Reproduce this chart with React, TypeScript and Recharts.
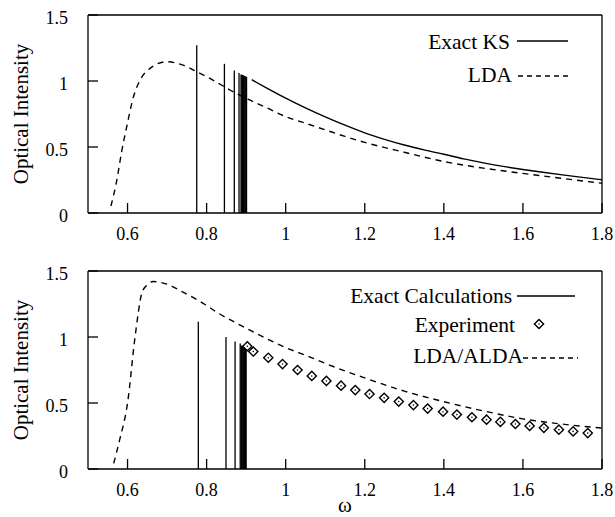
import React from 'react';
import {
  ComposedChart,
  Line,
  Scatter,
  XAxis,
  YAxis,
  ReferenceLine,
} from 'recharts';

// ω values shared by both panels
const X_TICKS = [0.6, 0.8, 1, 1.2, 1.4, 1.6, 1.8];
const Y_TICKS = [0, 0.5, 1, 1.5];

// top panel: exact KS (discrete peaks + continuum) and LDA
const topPeakX = [0.775, 0.845, 0.87, 0.882, 0.887, 0.889, 0.891, 0.893, 0.895, 0.897, 0.899, 0.901];
const topPeakY = [1.27, 1.13, 1.08, 1.06, 1.05, 1.048, 1.045, 1.042, 1.04, 1.037, 1.034, 1.03];

const topKsX = [0.914, 0.95, 1.0, 1.05, 1.1, 1.15, 1.2, 1.25, 1.3, 1.35, 1.4, 1.45, 1.5, 1.55, 1.6, 1.65, 1.7, 1.75, 1.8];
const topKsY = [1.01, 0.95, 0.87, 0.796, 0.728, 0.665, 0.607, 0.558, 0.515, 0.478, 0.445, 0.41, 0.38, 0.353, 0.33, 0.309, 0.289, 0.27, 0.252];

const topLdaX = [0.558, 0.573, 0.585, 0.598, 0.615, 0.632, 0.657, 0.699, 0.74, 0.775, 0.82, 0.86, 0.906, 0.95, 1.0, 1.05, 1.1, 1.15, 1.2, 1.3, 1.4, 1.5, 1.6, 1.7, 1.8];
const topLdaY = [0.053, 0.25, 0.464, 0.654, 0.881, 1.008, 1.096, 1.146, 1.12, 1.07, 1.0, 0.93, 0.86, 0.8, 0.73, 0.68, 0.63, 0.58, 0.535, 0.46, 0.39, 0.34, 0.3, 0.262, 0.225];

// bottom panel: exact calculations, experiment, LDA/ALDA
const botPeakX = [0.779, 0.849, 0.872, 0.885, 0.888, 0.89, 0.892, 0.894, 0.896, 0.898, 0.9];
const botPeakY = [1.116, 1.0, 0.965, 0.95, 0.935, 0.933, 0.931, 0.929, 0.927, 0.925, 0.923];

const expX = [0.903, 0.918, 0.956, 0.992, 1.03, 1.066, 1.103, 1.14, 1.176, 1.212, 1.249, 1.286, 1.323, 1.359, 1.398, 1.433, 1.471, 1.508, 1.543, 1.581, 1.617, 1.653, 1.691, 1.727, 1.764];
const expY = [0.93, 0.89, 0.843, 0.795, 0.75, 0.705, 0.667, 0.631, 0.598, 0.568, 0.539, 0.511, 0.484, 0.458, 0.434, 0.412, 0.392, 0.374, 0.357, 0.341, 0.326, 0.312, 0.298, 0.285, 0.272];

const botLdaX = [0.565, 0.58, 0.6, 0.619, 0.636, 0.648, 0.665, 0.7, 0.74, 0.7835, 0.83, 0.885, 0.95, 1.0, 1.06, 1.1, 1.2, 1.3, 1.4, 1.5, 1.6, 1.7, 1.8];
const botLdaY = [0.043, 0.22, 0.5, 1.0, 1.33, 1.39, 1.42, 1.4, 1.34, 1.27, 1.18, 1.09, 0.99, 0.92, 0.85, 0.8, 0.69, 0.59, 0.51, 0.44, 0.38, 0.34, 0.31];

const zip = (xs: number[], ys: number[]) => xs.map((x, i) => ({ x, y: ys[i] }));

const FONT = '"Liberation Serif", "Times New Roman", serif';
const INK = '#000';

const Diamond = (props: any) => {
  const { cx, cy } = props;
  const r = 4.6;
  return (
    <g>
      <polygon
        points={`${cx},${cy - r} ${cx + r},${cy} ${cx},${cy + r} ${cx - r},${cy}`}
        fill="#fff"
        stroke={INK}
        strokeWidth={1.4}
      />
      <circle cx={cx} cy={cy} r={0.8} fill={INK} />
    </g>
  );
};

// y tick labels sit a little below their tick, as in the original
const YTick = (props: any) => {
  const { x, y, payload } = props;
  return (
    <text x={x} y={y + 8.5} textAnchor="end" fontSize={18} fill={INK} fontFamily={FONT}>
      {payload.value}
    </text>
  );
};

interface PanelProps {
  top: number;
  height: number;
  peaks: { x: number; y: number }[];
  dashed: { x: number; y: number }[];
  solid?: { x: number; y: number }[];
  points?: { x: number; y: number }[];
  xLabel?: string;
}

function Panel({ top, height, peaks, dashed, solid, points, xLabel }: PanelProps) {
  const tickStyle = { fontSize: 18, fill: INK, fontFamily: FONT };
  return (
    <div style={{ position: 'absolute', left: 0, top }}>
      <ComposedChart
        width={615}
        height={height}
        margin={{ top: 15, right: 13, bottom: 0, left: 0 }}
      >
        <XAxis
          dataKey="x"
          type="number"
          domain={[0.5, 1.8]}
          ticks={X_TICKS}
          interval={0}
          height={height - 213}
          tickSize={-10}
          tickMargin={24}
          tick={tickStyle}
          stroke={INK}
          strokeWidth={1.3}
          label={
            xLabel
              ? { value: xLabel, position: 'insideBottom', offset: 5, style: { fontSize: 21, fill: INK, fontFamily: FONT } }
              : undefined
          }
        />
        <YAxis
          type="number"
          domain={[0, 1.5]}
          ticks={Y_TICKS}
          width={88}
          tickSize={-10}
          tickMargin={30}
          tick={<YTick />}
          stroke={INK}
          strokeWidth={1.3}
          label={{
            value: 'Optical Intensity',
            angle: -90,
            position: 'insideLeft',
            offset: 21,
            style: { textAnchor: 'middle', fontSize: 21, fill: INK, fontFamily: FONT },
          }}
        />

        {/* frame: top and right edges of the plot box */}
        <ReferenceLine y={1.5} stroke={INK} strokeWidth={1.3} />
        <ReferenceLine x={1.8} stroke={INK} strokeWidth={1.3} />

        {peaks.map((p, i) => (
          <ReferenceLine
            key={`peak-${i}`}
            segment={[{ x: p.x, y: 0 }, { x: p.x, y: p.y }]}
            stroke={INK}
            strokeWidth={1.3}
          />
        ))}

        <Line
          data={dashed}
          dataKey="y"
          type="monotone"
          stroke={INK}
          strokeWidth={1.4}
          strokeDasharray="6 5"
          dot={false}
          activeDot={false}
          isAnimationActive={false}
        />
        {solid && (
          <Line
            data={solid}
            dataKey="y"
            type="monotone"
            stroke={INK}
            strokeWidth={1.4}
            dot={false}
            activeDot={false}
            isAnimationActive={false}
          />
        )}
        {points && (
          <Scatter data={points} dataKey="y" shape={Diamond} isAnimationActive={false} />
        )}
      </ComposedChart>
    </div>
  );
}

export default function App() {
  const legendText = { fontSize: 21.5, fill: INK, fontFamily: FONT, textAnchor: 'end' as const };
  return (
    <div style={{ position: 'absolute', left: 0, top: 0, width: 615, height: 517, background: '#fff' }}>
      <Panel
        top={0}
        height={250}
        peaks={zip(topPeakX, topPeakY)}
        solid={zip(topKsX, topKsY)}
        dashed={zip(topLdaX, topLdaY)}
      />
      <Panel
        top={256}
        height={261}
        peaks={zip(botPeakX, botPeakY)}
        points={zip(expX, expY)}
        dashed={zip(botLdaX, botLdaY)}
        xLabel="ω"
      />

      {/* legends */}
      <svg width={615} height={517} style={{ position: 'absolute', left: 0, top: 0, pointerEvents: 'none' }}>
        <text x={510} y={49} style={legendText}>Exact KS</text>
        <line x1={517} x2={568} y1={41} y2={41} stroke={INK} strokeWidth={1.4} />
        <text x={512} y={82} style={legendText}>LDA</text>
        <line x1={518} x2={571} y1={76} y2={76} stroke={INK} strokeWidth={1.4} strokeDasharray="5 4" />

        <text x={512} y={303} style={legendText}>Exact Calculations</text>
        <line x1={517} x2={575} y1={296} y2={296} stroke={INK} strokeWidth={1.4} />
        <text x={515} y={332} style={legendText}>Experiment</text>
        <Diamond cx={539} cy={324} />
        <text x={523} y={363} style={legendText}>LDA/ALDA</text>
        <line x1={523} x2={578} y1={358} y2={358} stroke={INK} strokeWidth={1.4} strokeDasharray="5 4" />
      </svg>
    </div>
  );
}
